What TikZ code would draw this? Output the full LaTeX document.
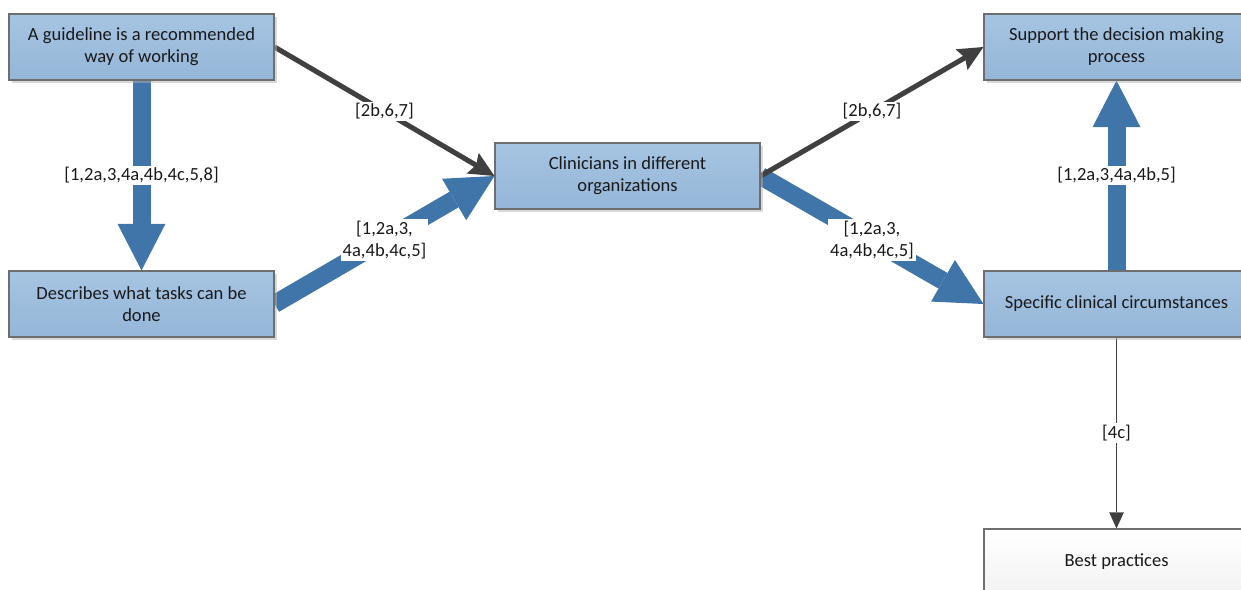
\documentclass[tikz,border=0pt]{standalone}
\usepackage{fontspec}
\setmainfont{Carlito}
\usetikzlibrary{arrows.meta, positioning, shadows, backgrounds}

\definecolor{boxtop}{RGB}{166,196,226}
\definecolor{boxbottom}{RGB}{149,182,216}
\definecolor{boxedge}{RGB}{110,110,110}
\definecolor{flowblue}{RGB}{63,117,168}
\definecolor{darkline}{RGB}{64,64,64}

\tikzset{
  box/.style={draw=boxedge, line width=0.8pt, top color=boxtop, bottom color=boxbottom,
    minimum width=198.75pt, minimum height=49.5pt, align=center, text=black!90,
    font=\fontsize{13.9}{16.5}\selectfont,
    drop shadow={shadow xshift=2.5pt, shadow yshift=-2.5pt, fill=black!30, opacity=0.5}},
  plainbox/.style={box, top color=white, bottom color=black!5},
  bigflow/.style={draw=flowblue, line width=13.5pt,
    -{Triangle[width=36pt, length=35pt, line width=0pt]}},
  darkflow/.style={draw=darkline, line width=3.8pt,
    -{Stealth[width=18pt, length=19pt, inset=3pt, line width=0pt]}},
  thinflow/.style={draw=darkline, line width=1.1pt,
    -{Triangle[width=11pt, length=12pt, line width=0pt]}},
  tag/.style={fill=white, inner sep=1.5pt, align=center, text=black!90,
    font=\fontsize{13.9}{16.5}\selectfont}
}

\begin{document}
\begin{tikzpicture}[x=0.75pt, y=-0.75pt]
\useasboundingbox (0,0) rectangle (1241,589);

% Boxes
\node[box] (guide) at (141.5,47) {A guideline is a recommended\\way of working};
\node[box] (tasks) at (141.5,304) {Describes what tasks can be\\done};
\node[box] (clin) at (627.5,176) {Clinicians in different\\organizations};
\node[box] (support) at (1116.5,47) {Support the decision making\\process};
\node[box] (circ) at (1116.5,304) {Specific clinical circumstances};
\node[plainbox] (best) at (1116.5,562) {Best practices};

% Flows (behind the boxes)
\begin{pgfonlayer}{background}
\draw[bigflow] (guide.south) -- node[tag] {[1,2a,3,4a,4b,4c,5,8]} (tasks.north);
\draw[bigflow] (tasks.east) -- node[tag] {[1,2a,3,\\4a,4b,4c,5]} (clin.west);
\draw[darkflow] (guide.east) -- node[tag] {[2b,6,7]} (clin.west);
\draw[bigflow] (clin.east) -- node[tag] {[1,2a,3,\\4a,4b,4c,5]} (circ.west);
\draw[darkflow] (clin.east) -- node[tag] {[2b,6,7]} (support.west);
\draw[bigflow] (circ.north) -- node[tag] {[1,2a,3,4a,4b,5]} (support.south);
\draw[thinflow] (circ.south) -- node[tag] {[4c]} (best.north);
\end{pgfonlayer}
\end{tikzpicture}
\end{document}
